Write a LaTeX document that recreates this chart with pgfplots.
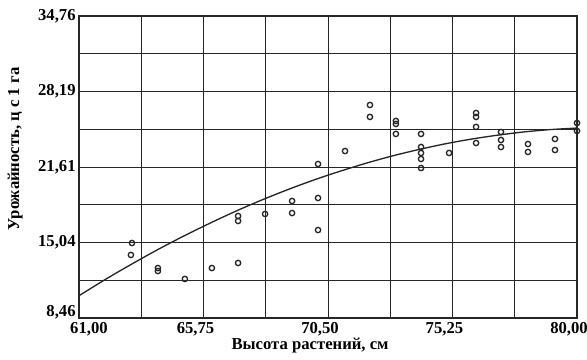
\documentclass[border=0pt]{standalone}
\usepackage{fontspec}
\setmainfont{Liberation Serif}
\usepackage{pgfplots}
\pgfplotsset{compat=1.18}
\begin{document}
\begin{tikzpicture}[x=1pt,y=1pt]
\useasboundingbox (0,0) rectangle (440.25,270);
\begin{axis}[
  at={(59.25pt,31.5pt)}, anchor=south west,
  scale only axis, width=373.5pt, height=226.5pt,
  xmin=61, xmax=80, ymin=8.46, ymax=34.76,
  xtick={61,65.75,70.5,75.25,80},
  xticklabels={{\hspace*{27pt}61,00},{65,75},{70,50},{75,25},{80,00}},
  ytick={8.46,15.035,21.61,28.185,34.76},
  yticklabels={{\raisebox{11pt}{8,46}},{15,04},{21,61},{28,19},{34,76}},
  xticklabel style={xshift=-6pt},
  yticklabel style={xshift=1pt},
  minor tick num=1,
  grid=both,
  major grid style={black!85, line width=0.7pt},
  minor grid style={black!85, line width=0.7pt},
  axis line style={black!85, line width=0.9pt},
  major tick length=0pt, minor tick length=0pt,
  tick label style={font=\fontsize{12.5}{14}\selectfont\bfseries},
  xlabel={Высота растений, см},
  ylabel={Урожайность, ц с 1 га},
  label style={font=\fontsize{12.5}{14}\selectfont\bfseries},
  xlabel style={at={(axis description cs:0.464,-0.09)}, anchor=center},
  ylabel style={at={(axis description cs:-0.128,0.56)}, anchor=center},
  clip=false,
]
\addplot[only marks, mark=o, mark size=2pt, black!85, mark options={line width=1pt}] coordinates {
(63.02,14.99) (62.98,13.95) (64.01,12.81) (64.01,12.55) (65.04,11.86)
(66.07,12.81) (67.07,13.25) (67.07,17.34) (67.07,16.91) (68.10,17.52)
(69.13,18.65) (69.13,17.60) (70.12,18.91) (70.12,16.12) (70.12,21.87)
(71.15,23.00) (72.10,27.01) (72.10,25.97) (73.09,25.62) (73.09,25.36)
(73.09,24.49) (74.05,24.49) (74.05,23.35) (74.05,22.83) (74.05,22.31)
(74.05,21.52) (75.12,22.83) (76.15,26.31) (76.15,25.97) (76.15,25.10)
(76.15,23.70) (77.10,24.66) (77.10,23.96) (77.10,23.35) (78.13,23.61)
(78.13,22.92) (79.16,24.05) (79.16,23.09) (80.00,25.44) (80.00,24.75)
};
\addplot[black!85, line width=1pt, smooth] coordinates {
(61,10.4) (62,11.81) (63,13.14) (64,14.41) (65,15.60) (66,16.72)
(67,17.78) (68,18.76) (69,19.67) (70,20.51) (71,21.27) (72,21.97)
(73,22.60) (74,23.15) (75,23.64) (76,24.05) (77,24.39) (78,24.67)
(79,24.87) (80,25.00)
};
\end{axis}
\end{tikzpicture}
\end{document}
